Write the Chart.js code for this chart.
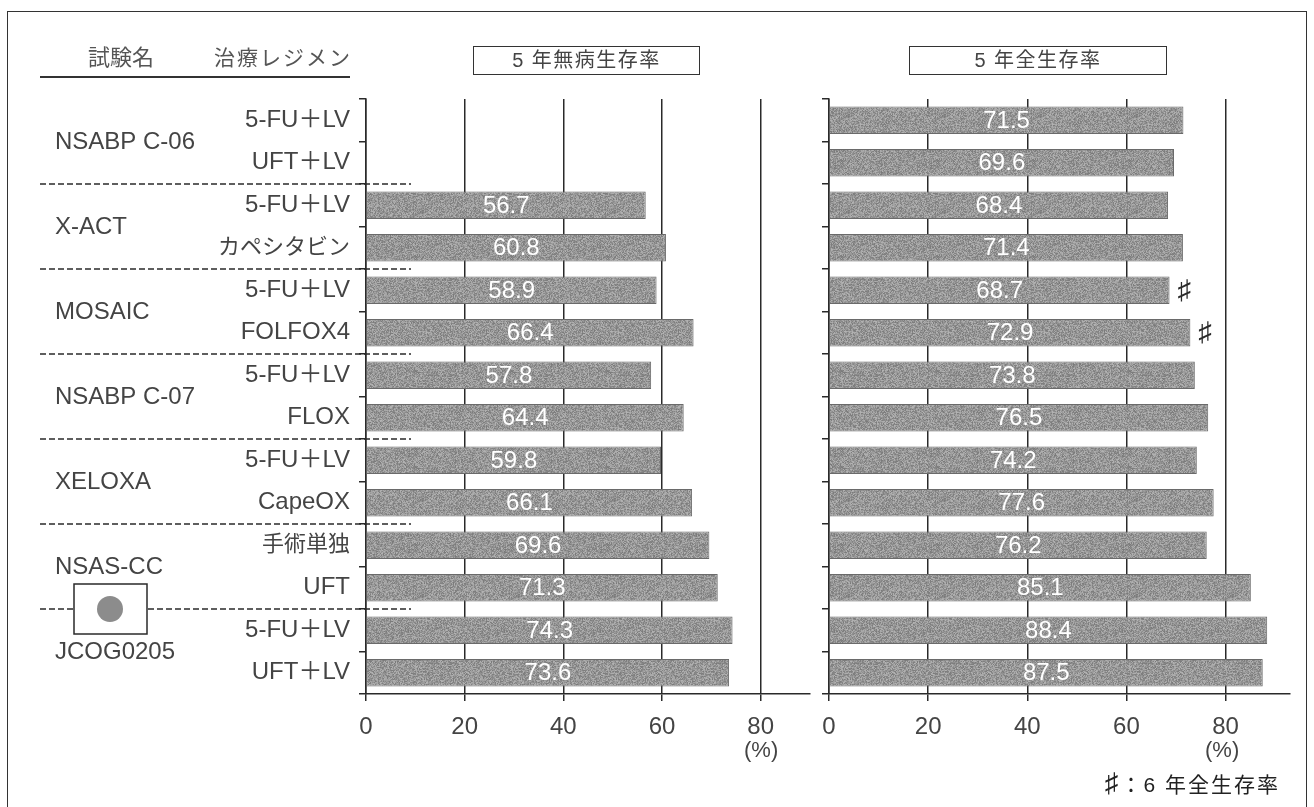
<!DOCTYPE html>
<html lang="ja">
<head>
<meta charset="utf-8">
<title>5年生存率</title>
<script src="https://cdn.jsdelivr.net/npm/chart.js@4"></script>
<style>
    html, body { margin: 0; padding: 0; background: #fff; overflow: hidden; }
    #page { position: relative; width: 1314px; height: 807px; font-family: 'Liberation Sans', 'Noto Sans CJK JP', sans-serif; color: #444; }
    #frame { position: absolute; left: 7px; top: 11px; width: 1300px; height: 810px; border: 1.5px solid #333; box-sizing: border-box; }
    canvas { position: absolute; top: 0; }
    #left-chart { left: 0; }
    #right-chart { left: 810px; }
    .text { position: absolute; white-space: nowrap; font-size: 22px; line-height: 26px; }
    .box { position: absolute; top: 46px; height: 29px; border: 1.5px solid #333; box-sizing: border-box; text-align: center; font-size: 20px; line-height: 26px; letter-spacing: 1.5px; background: #fff; color: #444; }
    #head-rule { position: absolute; left: 40px; top: 76px; width: 310px; height: 2px; background: #333; }
</style>
</head>
<body>
<div id="page">
    <div id="frame"></div>
    <canvas id="left-chart" width="815" height="807"></canvas>
    <canvas id="right-chart" width="504" height="807"></canvas>
    <div class="text" style="left:88px;top:45px;color:#555">試験名</div>
    <div class="text" style="left:214px;top:45px;font-size:21px;letter-spacing:2px;color:#555">治療レジメン</div>
    <div id="head-rule"></div>
    <div class="box" style="left:473px;width:227px">5 年無病生存率</div>
    <div class="box" style="left:909px;width:258px">5 年全生存率</div>
    <div class="text" style="left:744px;top:737px">(%)</div>
    <div class="text" style="left:1205px;top:737px">(%)</div>
    <div class="text" style="left:1105px;top:772px;font-size:21px;letter-spacing:2px;color:#222"><span style="font-size:27px;line-height:20px">♯</span>：6 年全生存率</div>
</div>

<script>
const regimens = ['5-FU＋LV', 'UFT＋LV', '5-FU＋LV', 'カペシタビン', '5-FU＋LV', 'FOLFOX4', '5-FU＋LV', 'FLOX', '5-FU＋LV', 'CapeOX', '手術単独', 'UFT', '5-FU＋LV', 'UFT＋LV']
const disease_free = [null, null, 56.7, 60.8, 58.9, 66.4, 57.8, 64.4, 59.8, 66.1, 69.6, 71.3, 74.3, 73.6]
const overall = [71.5, 69.6, 68.4, 71.4, 68.7, 72.9, 73.8, 76.5, 74.2, 77.6, 76.2, 85.1, 88.4, 87.5]
const six_year_rows = [4, 5]
const trial_names = ['NSABP C-06', 'X-ACT', 'MOSAIC', 'NSABP C-07', 'XELOXA', 'NSAS-CC', 'JCOG0205']
const trial_rows = [1, 3, 5, 7, 9, 11, 13]
const percent_ticks = [0, 20, 40, 60, 80]

const FONT = "'Liberation Sans', 'Noto Sans CJK JP', sans-serif"
const INK = '#2a2a2a'
const TEXT = '#444'

// stippled grey used for every bar
function bar_texture() {
    const tile = document.createElement('canvas')
    tile.width = 96
    tile.height = 96
    const ctx = tile.getContext('2d')
    let seed = 7
    for (let y = 0; y < 96; y++) {
        for (let x = 0; x < 96; x++) {
            seed = (seed * 1103515245 + 12345) & 0x7fffffff
            const v = 122 + (seed >> 16) % 58
            ctx.fillStyle = `rgb(${v},${v},${v})`
            ctx.fillRect(x, y, 1, 1)
        }
    }
    return ctx.createPattern(tile, 'repeat')
}

// white value centred in each bar, plus the ♯ note after flagged bars
const bar_labels = {
    id: 'barLabels',
    afterDatasetsDraw(chart, args, options) {
        const { ctx } = chart
        const values = chart.data.datasets[0].data
        ctx.save()
        ctx.textBaseline = 'middle'
        ctx.textAlign = 'center'
        chart.getDatasetMeta(0).data.forEach((bar, i) => {
            if (values[i] === null) return
            ctx.font = `24px ${FONT}`
            ctx.fillStyle = '#fff'
            ctx.fillText(values[i].toFixed(1), (bar.x + bar.base) / 2, bar.y + 1)
            if (options.notes && options.notes.includes(i)) {
                ctx.font = `27px ${FONT}`
                ctx.fillStyle = INK
                ctx.fillText('♯', bar.x + 15, bar.y + 1)
            }
        })
        ctx.restore()
    }
}

// trial names, dashed separators between trials and the flag for the Japanese trials
const trial_column = {
    id: 'trialColumn',
    afterDraw(chart) {
        const { ctx } = chart
        const y_scale = chart.scales.y
        const boundary = row => (y_scale.getPixelForValue(row) + y_scale.getPixelForValue(row + 1)) / 2

        ctx.save()
        ctx.strokeStyle = INK
        ctx.lineWidth = 1.5
        ctx.setLineDash([6, 3])
        trial_rows.slice(0, -1).forEach(row => {
            ctx.beginPath()
            ctx.moveTo(40, boundary(row))
            ctx.lineTo(411, boundary(row))
            ctx.stroke()
        })
        ctx.setLineDash([])

        ctx.font = `24px ${FONT}`
        ctx.fillStyle = TEXT
        ctx.textAlign = 'left'
        ctx.textBaseline = 'middle'
        trial_names.forEach((name, i) => {
            ctx.fillText(name, 55, y_scale.getPixelForValue(trial_rows[i] - 0.5) + 1)
        })

        const flag_y = boundary(trial_rows[5])
        ctx.fillStyle = '#fff'
        ctx.fillRect(74, flag_y - 25, 73, 50)
        ctx.strokeRect(74, flag_y - 25, 73, 50)
        ctx.fillStyle = '#8c8c8c'
        ctx.beginPath()
        ctx.arc(110, flag_y, 13, 0, Math.PI * 2)
        ctx.fill()
        ctx.restore()
    }
}

function regimen_font(context) {
    const label = regimens[context.index] || ''
    return { size: /[\u3040-\u30ff\u4e00-\u9fff]/.test(label) ? 22 : 24, family: FONT }
}

function make_panel(canvas_id, values, x_max, axis_left, right_pad, show_regimens, plugins, notes) {
    const canvas = document.getElementById(canvas_id)
    return new Chart(canvas, {
        type: 'bar',
        data: {
            labels: regimens,
            datasets: [{
                data: values,
                backgroundColor: bar_texture(),
                borderColor: '#6a6a6a',
                borderWidth: 1,
                barPercentage: 0.65,
                categoryPercentage: 1
            }]
        },
        options: {
            indexAxis: 'y',
            responsive: false,
            animation: false,
            layout: { autoPadding: false, padding: { top: 99, right: right_pad, left: 0, bottom: 0 } },
            scales: {
                x: {
                    min: 0,
                    max: x_max,
                    afterBuildTicks: scale => { scale.ticks = percent_ticks.map(value => ({ value })) },
                    afterFit: scale => { scale.height = 113 },
                    grid: { color: INK, lineWidth: 1.5, tickLength: 7 },
                    border: { color: INK, width: 1.5 },
                    ticks: { color: TEXT, font: { size: 24, family: FONT }, padding: 12, maxRotation: 0 }
                },
                y: {
                    afterFit: scale => { scale.width = axis_left },
                    grid: { drawOnChartArea: false, offset: true, color: INK, lineWidth: 1.5, tickLength: 7 },
                    border: { color: INK, width: 1.5 },
                    ticks: { display: show_regimens, autoSkip: false, color: TEXT, font: regimen_font, padding: 9 }
                }
            },
            plugins: {
                legend: { display: false },
                tooltip: { enabled: false },
                barLabels: { notes }
            }
        },
        plugins
    })
}

make_panel('left-chart', disease_free, 90, 366, 5, true, [bar_labels, trial_column], [])
make_panel('right-chart', overall, 93, 19, 24, false, [bar_labels], six_year_rows)
</script>
</body>
</html>
